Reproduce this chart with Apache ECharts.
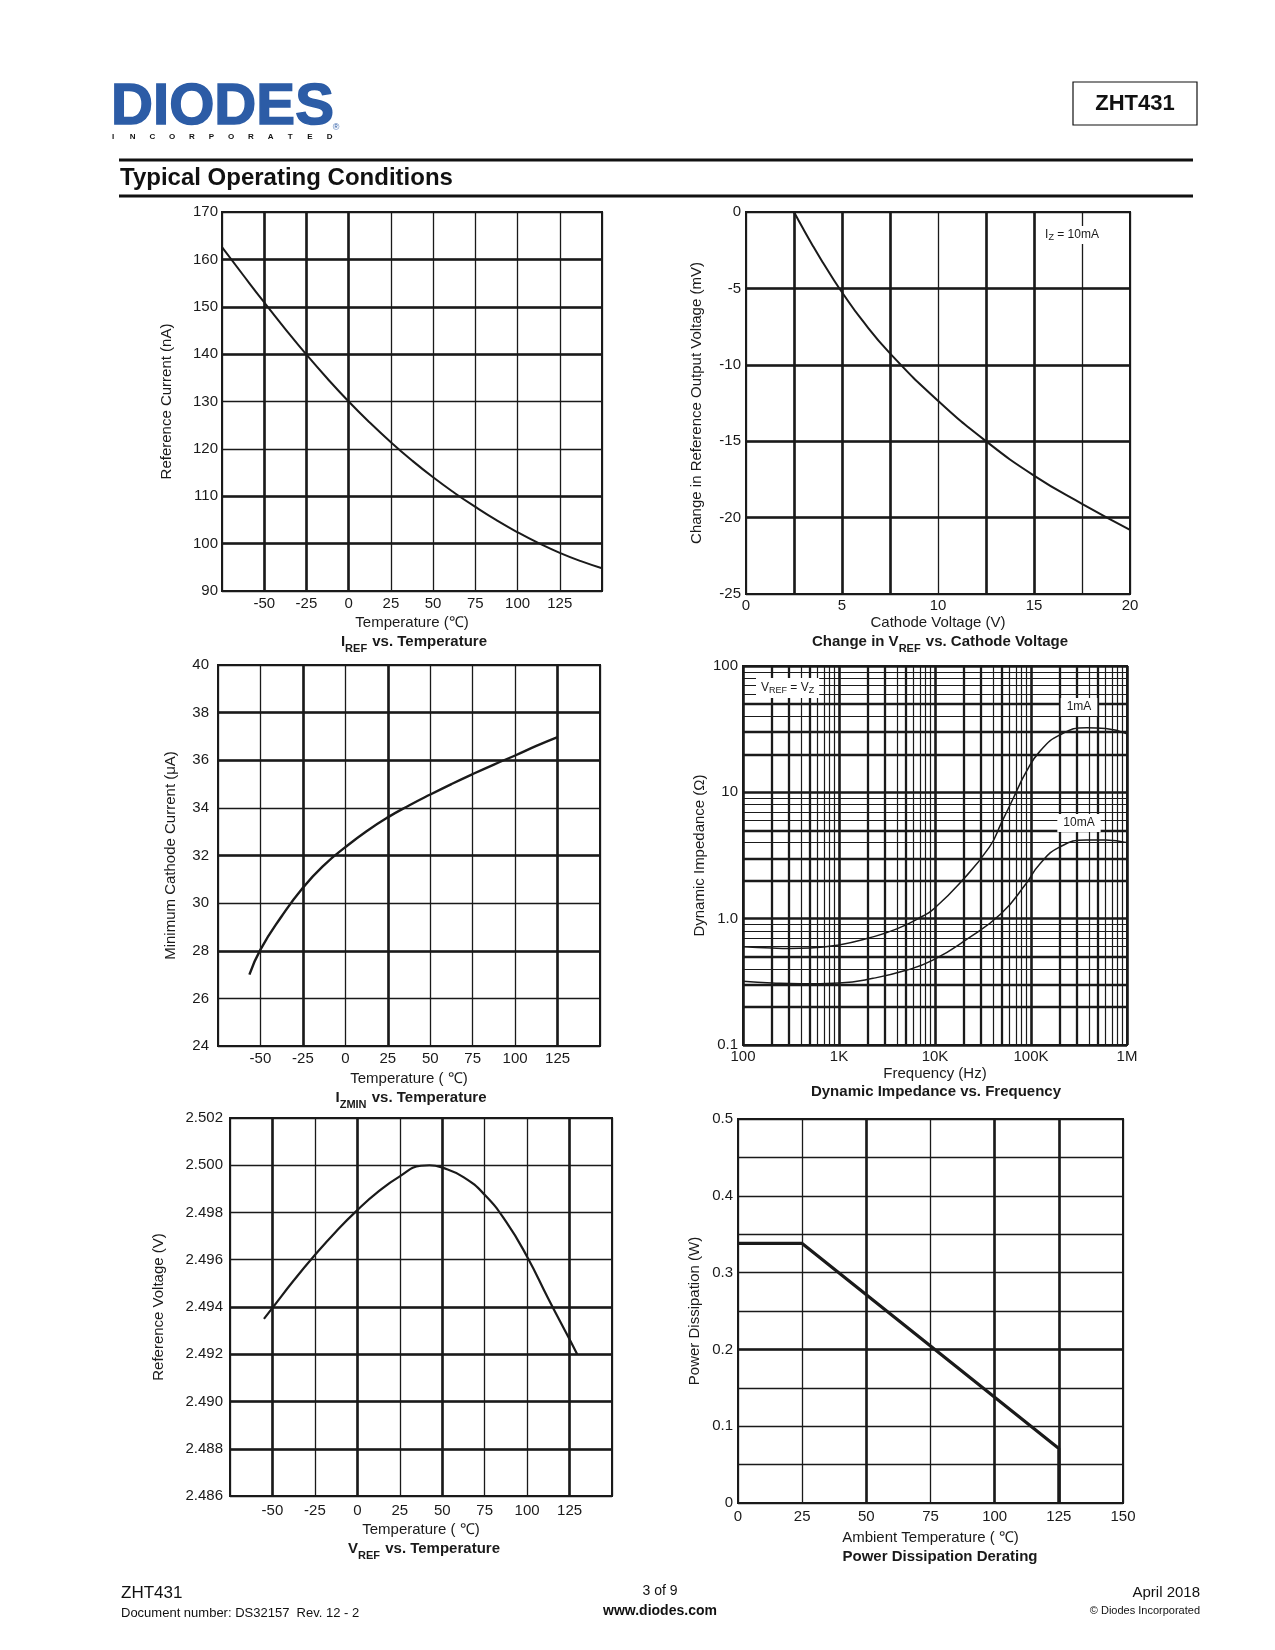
<!DOCTYPE html>
<html><head><meta charset="utf-8">
<script src="https://cdn.jsdelivr.net/npm/echarts@6/dist/echarts.min.js"></script>
<style>html,body{margin:0;padding:0;background:#fff}#c{width:1275px;height:1650px}</style>
</head><body><div id="c"></div>
<script>
// ---------- DATA ----------
const irefTemp = [-75,-62.5,-50,-37.5,-25,-12.5,0,12.5,25,37.5,50,62.5,75,87.5,100,112.5,125,137.5,150];
const irefNA   = [162.6,156.7,150.9,145.3,139.9,134.8,130.0,125.55,121.4,117.55,114.0,110.75,107.75,104.95,102.4,100.1,98.05,96.3,94.8];

const dvCathodeV = [2.5,3,3.5,4,4.5,5,6,7.5,10,12.5,15,17.5,20];
const dvRefMV    = [0,-1.15,-2.25,-3.3,-4.3,-5.25,-7.0,-9.25,-12.35,-15.0,-17.25,-19.1,-20.8];

const izTemp = [-56.5,-50,-37.5,-25,-12.5,0,12.5,25,37.5,50,62.5,75,87.5,100,112.5,125];
const izUA   = [27.0,28.05,29.45,30.65,31.6,32.35,33.02,33.6,34.1,34.56,35.0,35.42,35.82,36.2,36.6,36.97];

const freq1mA = [100,200,300,500,1000,2000,4000,7500,9500,18000,37000,49000,65000,89000,123000,200000,380000,600000,1000000];
const zd1mA   = [0.60,0.585,0.58,0.585,0.62,0.70,0.83,1.05,1.18,1.9,3.7,5.7,8.9,14.5,21,28.5,32.5,32,29];
const freq10mA = [100,200,400,1000,2260,5000,9500,21000,49000,89000,123000,200000,380000,600000,1000000];
const zd10mA   = [0.32,0.31,0.305,0.31,0.337,0.39,0.47,0.68,1.1,1.9,2.7,3.7,4.2,4.2,4.0];

const vrefTemp = [-55,-50,-37.5,-25,-12.5,0,12.5,25,37.5,42.5,50,62.5,75,87.5,100,112.5,125,129.5];
const vrefV    = [2.4935,2.49396,2.49512,2.4962,2.4972,2.4981,2.49889,2.49953,2.49998,2.5000,2.4999,2.4995,2.49875,2.49762,2.49613,2.49435,2.49263,2.4920];

const pdTemp = [0,25,125,125];
const pdW    = [0.338,0.338,0.071,0];

// tick labels / grid values
const freqLabels = {100:'100',1000:'1K',10000:'10K',100000:'100K',1000000:'1M'};
const impLabels = {0.1:'0.1',1:'1.0',10:'10',100:'100'};
const logMantissas = [2,3,4,5,6,7,8,9];
const freqDecades = [100,1000,10000,100000];
const impDecades = [0.1,1,10];
// heavier grid lines (as printed in the reference)
const heavy = [
  {x:[-50,-25,0], y:[160,150,140,110,100]},
  {x:[2.5,5,7.5,12.5,15], y:[-5,-10,-15,-20]},
  {x:[-25,25,125], y:[38,36,32,28]},
  null,
  {x:[-50,0,50,125], y:[2.494,2.492,2.490,2.488]},
  {x:[50,100,125], y:[0.2]}
];

// ---------- STYLE ----------
const C = '#1a1a1a';
const FF = '"Liberation Sans", Arial, Helvetica, sans-serif';
const zip = (a,b) => a.map((x,i)=>[x,b[i]]);

function grid(l,t,w,h){
  return {left:l,top:t,width:w,height:h,containLabel:false,outerBoundsMode:'none',
    show:true,borderColor:C,borderWidth:2,backgroundColor:'transparent'};
}
function ax(o){
  const a = {
    type:o.type||'value', gridIndex:o.g, min:o.min, max:o.max,
    axisLine:{show:true,onZero:false,lineStyle:{color:C,width:2}},
    axisTick:{show:false},
    axisLabel:{show:true,margin:o.margin,color:C,fontSize:15,fontFamily:FF,formatter:o.fmt,
      showMinLabel:true,showMaxLabel:true,hideOverlap:false},
    splitLine:{show:true,lineStyle:{color:C,width:o.sw||1.3}},
    name:o.name,nameLocation:'middle',nameGap:o.gap,
    nameTextStyle:{color:C,fontSize:15,fontFamily:FF}
  };
  if(o.interval!==undefined) a.interval=o.interval;
  if(o.splitNumber!==undefined) a.splitNumber=o.splitNumber;
  if(o.type==='log') a.logBase=10;
  return a;
}
const hideEnds = v => (v===-75||v===150)?'':String(v);

const grids = [
  grid(222,212,380,379),
  grid(746,212,384,382),
  grid(218,665,382,381),
  grid(743,666,384,379),
  grid(230,1118,382,378),
  grid(738,1119,385,384)
];

const xAxes = [
  ax({g:0,min:-75,max:150,interval:25,fmt:hideEnds,name:'Temperature (℃)',gap:24,margin:5}),
  ax({g:1,min:0,max:20,interval:2.5,fmt:v=>(v%5===0?String(v):''),name:'Cathode Voltage (V)',gap:21,margin:4}),
  ax({g:2,min:-75,max:150,interval:25,fmt:hideEnds,name:'Temperature ( ℃)',gap:25,margin:5}),
  ax({g:3,type:'log',min:100,max:1000000,splitNumber:4,sw:2.6,fmt:v=>freqLabels[Math.round(v)]||'',name:'Frequency (Hz)',gap:21,margin:4}),
  ax({g:4,min:-75,max:150,interval:25,fmt:hideEnds,name:'Temperature ( ℃)',gap:26,margin:7}),
  ax({g:5,min:0,max:150,interval:25,fmt:v=>String(v),name:'Ambient Temperature ( ℃)',gap:27,margin:6})
];
const yAxes = [
  ax({g:0,min:90,max:170,interval:10,fmt:v=>String(v),name:'Reference Current (nA)',gap:48,margin:4}),
  ax({g:1,min:-25,max:0,interval:5,fmt:v=>String(v),name:'Change in Reference Output Voltage (mV)',gap:42,margin:5}),
  ax({g:2,min:24,max:40,interval:2,fmt:v=>String(v),name:'Minimum Cathode Current (μA)',gap:40,margin:9}),
  ax({g:3,type:'log',min:0.1,max:100,splitNumber:3,sw:2.6,fmt:v=>{const k=v<0.5?0.1:v<5?1:v<50?10:100;return impLabels[k];},name:'Dynamic Impedance (Ω)',gap:36,margin:5}),
  ax({g:4,min:2.486,max:2.502,interval:0.002,fmt:v=>v.toFixed(3),name:'Reference Voltage (V)',gap:64,margin:7}),
  ax({g:5,min:0,max:0.5,interval:0.05,sw:1.3,fmt:v=>{const r=Math.round(v*100);return r%10===0?(r===0?'0':(r/100).toFixed(1)):'';},name:'Power Dissipation (W)',gap:36,margin:5})
];

const lineS = (i,data,w,smooth) => ({type:'line',xAxisIndex:i,yAxisIndex:i,data,smooth:smooth===undefined?0.5:smooth,
  showSymbol:false,symbol:'none',lineStyle:{color:C,width:w||2},z:5,silent:true});
const gridLines = (i,anchor,data) => ({type:'line',xAxisIndex:i,yAxisIndex:i,data:[anchor],showSymbol:false,symbol:'none',
  lineStyle:{opacity:0},z:1,silent:true,
  markLine:{silent:true,precision:6,symbol:['none','none'],label:{show:false},lineStyle:{color:C,type:'solid',width:2.6},data,animation:false}});

// minor log grid lines for the impedance chart
const minorData = [];
freqDecades.forEach(d=>logMantissas.forEach(m=>minorData.push({xAxis:d*m,lineStyle:{width:(m===2||m===3||m===5)?2.3:1.2}})));
impDecades.forEach(d=>logMantissas.forEach(m=>minorData.push({yAxis:d*m,lineStyle:{width:(m===2||m===3||m===5)?2.3:1.2}})));

const anchors = [[0,130],[10,-10],[0,30],[1000,1],[0,2.494],[50,0.2]];
const series = [];
heavy.forEach((h,i)=>{
  if(!h) return;
  const d = h.x.map(v=>({xAxis:v})).concat(h.y.map(v=>({yAxis:v})));
  series.push(gridLines(i,anchors[i],d));
});
series.push(gridLines(3,anchors[3],minorData));
series.push(lineS(0,zip(irefTemp,irefNA),2));
series.push(lineS(1,zip(dvCathodeV,dvRefMV),2));
series.push(lineS(2,zip(izTemp,izUA),2.4));
series.push(lineS(3,zip(freq1mA,zd1mA),1.5));
series.push(lineS(3,zip(freq10mA,zd10mA),1.5));
series.push(lineS(4,zip(vrefTemp,vrefV),2.2));
series.push(lineS(5,zip(pdTemp,pdW),3.2,false));

// ---------- TEXT / DECOR ----------
const rb = {fontSize:15,fontWeight:'bold',fontFamily:FF,fill:C,lineHeight:20,verticalAlign:'top'};
const rs = {fontSize:11,fontWeight:'bold',fontFamily:FF,fill:C,lineHeight:14,verticalAlign:'bottom',padding:[8,1,0,0]};
function title(x,y,text){
  return {type:'text',x,y,style:{text,align:'center',verticalAlign:'middle',rich:{b:rb,s:rs}},z:10};
}
const nb = {fontSize:12,fontFamily:FF,fill:C,lineHeight:14};
const ns = {fontSize:9,fontFamily:FF,fill:C,lineHeight:10,padding:[6,0,0,0]};
function note(x,y,text,align,pad){
  return {type:'text',x,y,z:20,style:{text,align:align||'center',verticalAlign:'middle',rich:{n:nb,s:ns},
    backgroundColor:'#fff',padding:pad||[2,5,2,5]}};
}
function txt(x,y,text,size,weight,align,fill){
  return {type:'text',x,y,z:10,style:{text,fontSize:size,fontWeight:weight||'normal',fontFamily:FF,
    fill:fill||C,align:align||'left',verticalAlign:'middle'}};
}

const graphics = [];
// logo
graphics.push({type:'text',x:111,y:108,scaleX:1.02,z:10,style:{text:'DIODES',fontSize:57,fontWeight:900,
  fontFamily:FF,fill:'#2c5ca6',align:'left',verticalAlign:'middle',stroke:'#2c5ca6',lineWidth:1.5}});
'INCORPORATED'.split('').forEach((ch,i)=>graphics.push(txt(113+i*19.7,137,ch,8,'bold','center','#111')));
graphics.push(txt(336,128,'®',9,'normal','center','#2c5ca6'));
// part box
graphics.push({type:'rect',shape:{x:1073,y:82,width:124,height:43},style:{fill:'#fff',stroke:'#111',lineWidth:1.2},z:5});
graphics.push(txt(1135,104,'ZHT431',22,'bold','center','#111'));
// rules
graphics.push({type:'line',shape:{x1:119,y1:160,x2:1193,y2:160},style:{stroke:'#111',lineWidth:3},z:5});
graphics.push({type:'line',shape:{x1:119,y1:196,x2:1193,y2:196},style:{stroke:'#111',lineWidth:3},z:5});
graphics.push(txt(120,178,'Typical Operating Conditions',24,'bold','left','#111'));
// chart titles
graphics.push(title(414,644,'{b|I}{s|REF}{b| vs. Temperature}'));
graphics.push(title(940,644,'{b|Change in V}{s|REF}{b| vs. Cathode Voltage}'));
graphics.push(title(411,1100,'{b|I}{s|ZMIN}{b| vs. Temperature}'));
graphics.push(title(936,1094,'{b|Dynamic Impedance vs. Frequency}'));
graphics.push(title(424,1551,'{b|V}{s|REF}{b| vs. Temperature}'));
graphics.push(title(940,1559,'{b|Power Dissipation Derating}'));
// notes
graphics.push(note(1072,235,'{n|I}{s|Z}{n| = 10mA}'));
graphics.push(note(756,688,'{n|V}{s|REF}{n| = V}{s|Z}','left',[3,5,3,5]));
graphics.push(note(1079,707,'{n|1mA}','center',[2,6,2,6]));
graphics.push(note(1079,823,'{n|10mA}','center',[2,6,2,6]));
// footer
graphics.push(txt(121,1593,'ZHT431',17,'normal','left','#111'));
graphics.push(txt(121,1613,'Document number: DS32157  Rev. 12 - 2',13,'normal','left','#111'));
graphics.push(txt(660,1591,'3 of 9',14,'normal','center','#111'));
graphics.push(txt(660,1611,'www.diodes.com',14,'bold','center','#111'));
graphics.push(txt(1200,1593,'April 2018',15,'normal','right','#111'));
graphics.push(txt(1200,1611,'© Diodes Incorporated',11,'normal','right','#111'));

const chart = echarts.init(document.getElementById('c'),null,{renderer:'canvas'});
chart.setOption({
  animation:false,
  backgroundColor:'#fff',
  textStyle:{fontFamily:FF},
  grid:grids, xAxis:xAxes, yAxis:yAxes, series, graphic:graphics
});
</script></body></html>
